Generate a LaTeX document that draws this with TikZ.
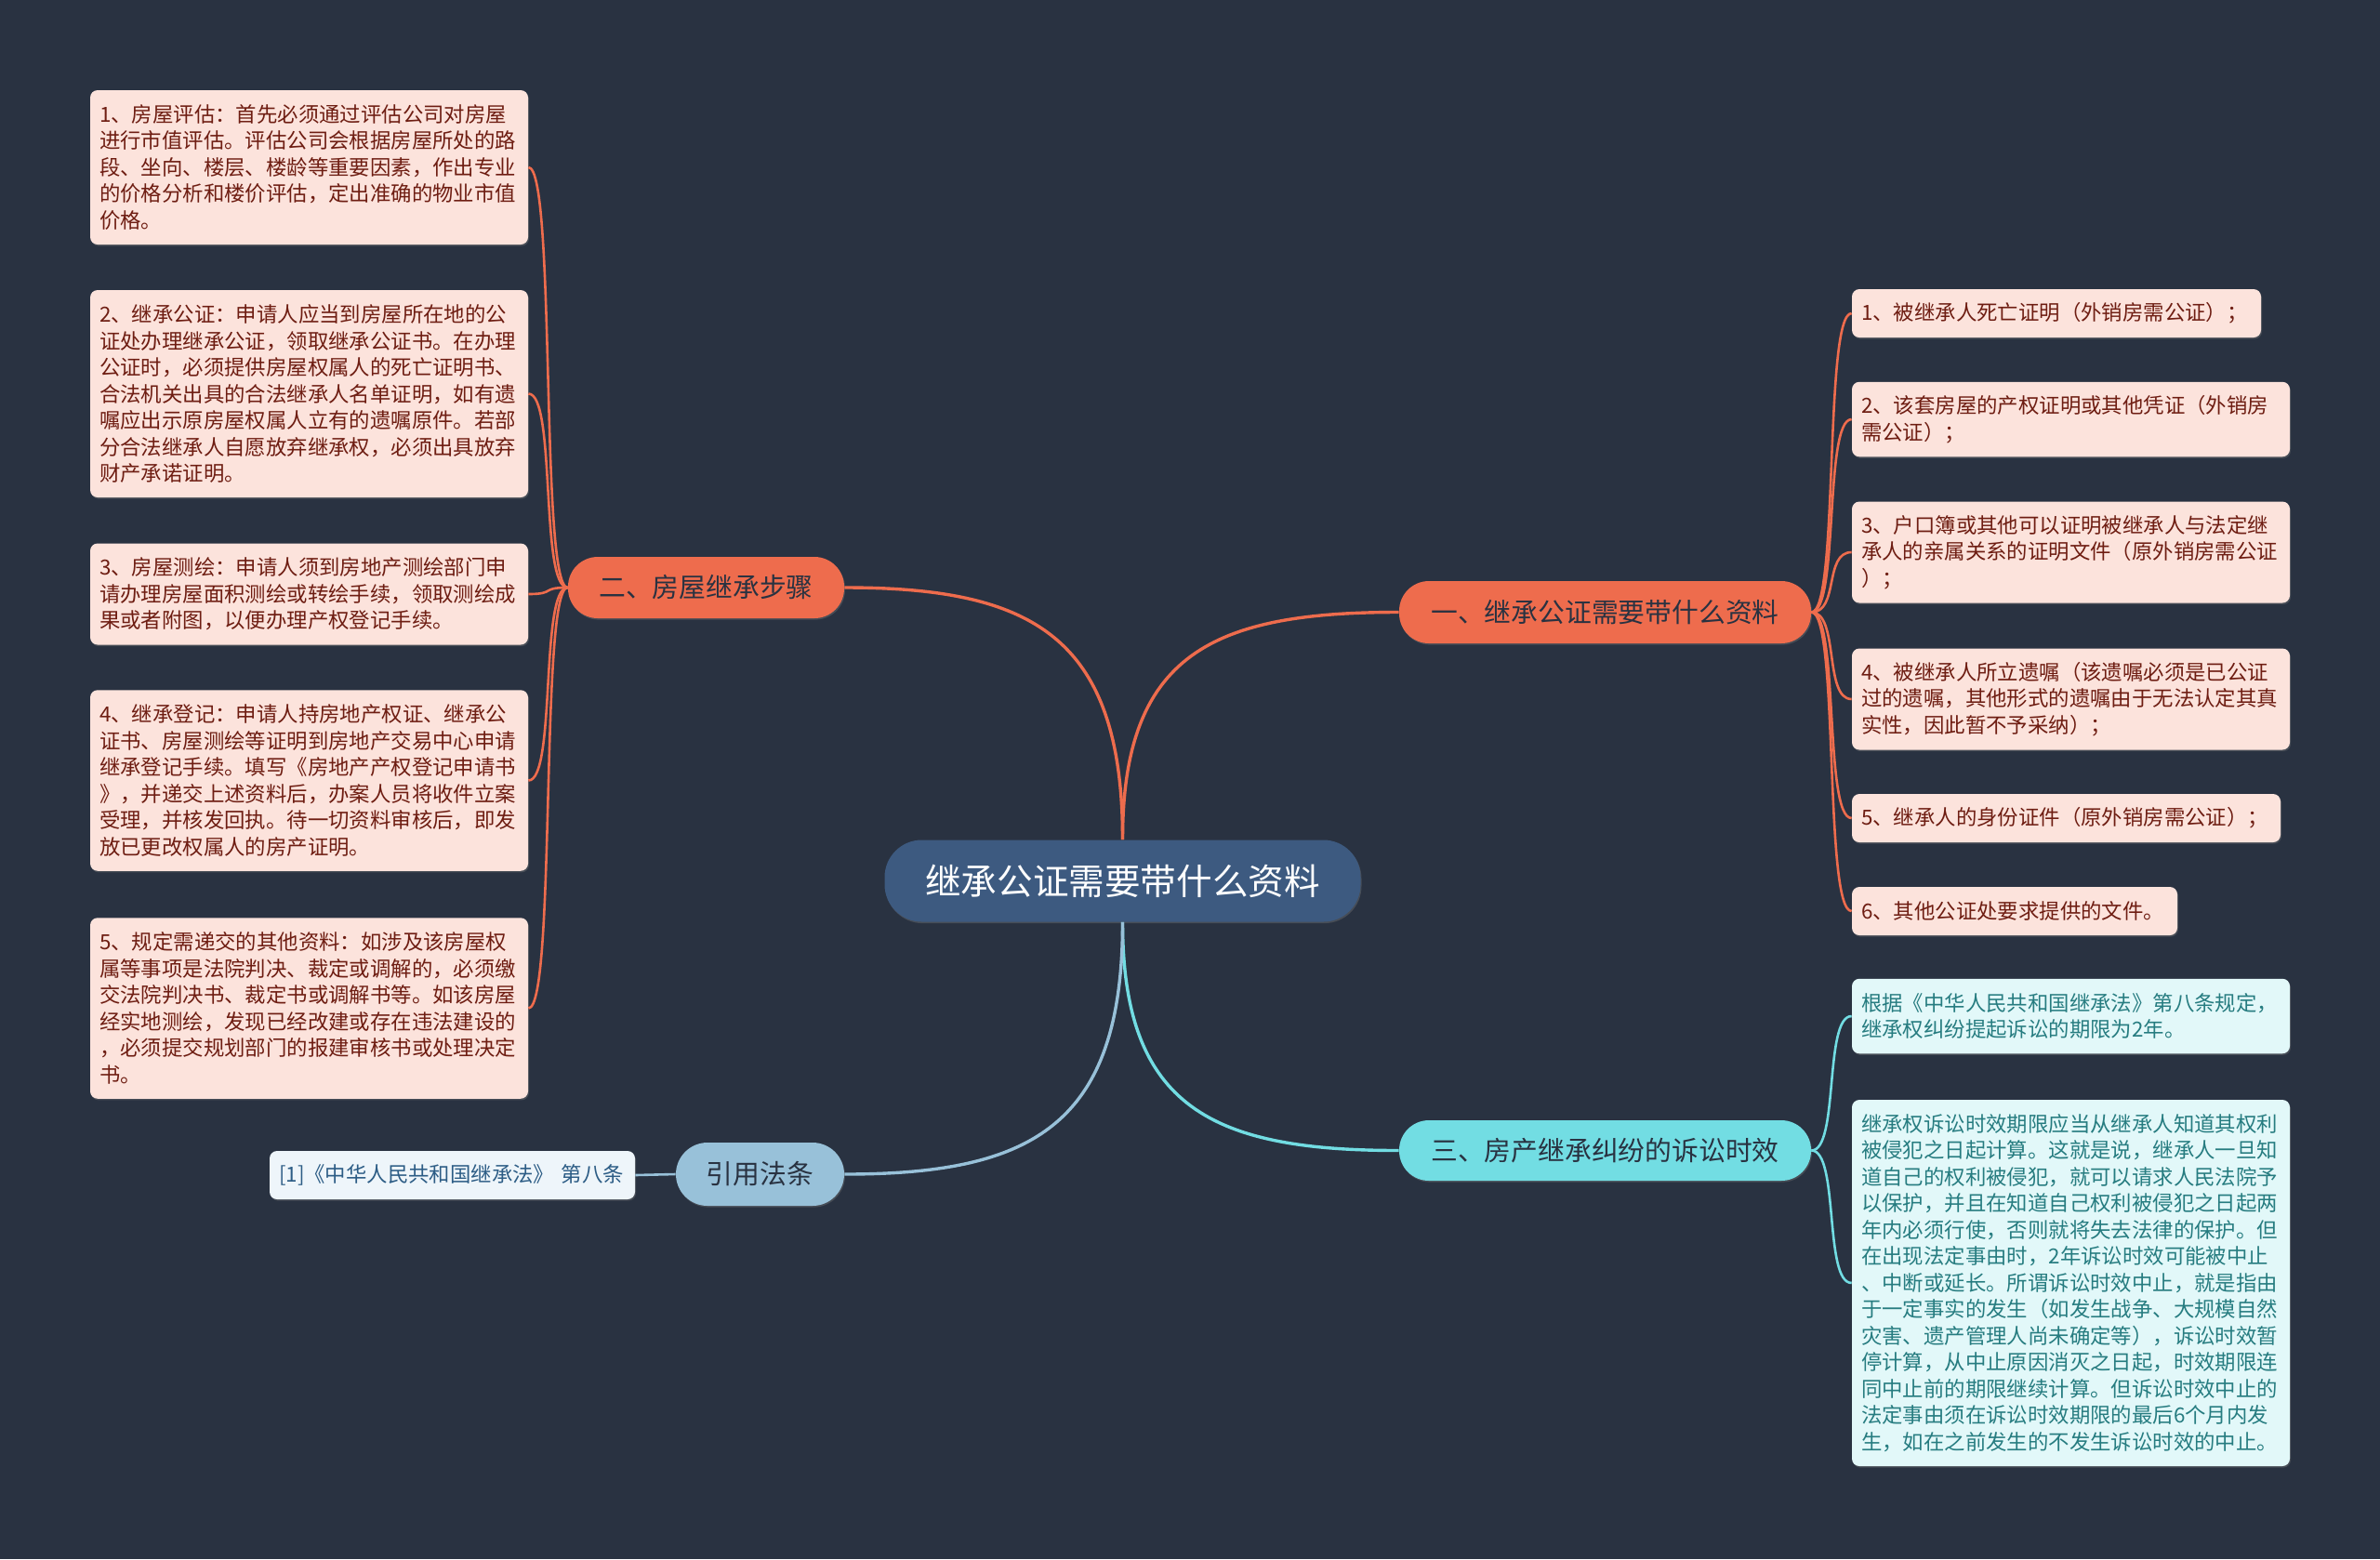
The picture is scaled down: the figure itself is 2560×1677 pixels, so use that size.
\documentclass[tikz,border=0pt]{standalone}
\usepackage{fontspec}
\setmainfont{Noto Sans CJK SC}
\usetikzlibrary{calc,shadows}
\definecolor{bg}{HTML}{293241}
\definecolor{rootc}{HTML}{3D5A80}
\definecolor{orng}{HTML}{EE6C4D}
\definecolor{cyanb}{HTML}{72DDE3}
\definecolor{lblue}{HTML}{98C1D9}
\definecolor{pinkf}{HTML}{FCE3DC}
\definecolor{pinkt}{HTML}{6E1D12}
\definecolor{cyanf}{HTML}{E2F8F9}
\definecolor{cyant}{HTML}{267C80}
\definecolor{lawf}{HTML}{EEF5FA}
\definecolor{lawt}{HTML}{2C5C85}
\definecolor{darkt}{HTML}{293241}
\begin{document}
\begin{tikzpicture}[x=0.5pt,y=-0.5pt,
  leafbase/.style={rectangle,rounded corners=4pt,inner xsep=5pt,inner ysep=3pt,align=left,
    font=\fontsize{11.2pt}{14.25pt}\selectfont,
    drop shadow={shadow xshift=0.5pt,shadow yshift=-0.8pt,opacity=0.35}},
  leafO/.style={leafbase,fill=pinkf,text=pinkt},
  leafC/.style={leafbase,fill=cyanf,text=cyant},
  leafL/.style={leafbase,fill=lawf,text=lawt},
  branch/.style={rectangle,align=center,font=\fontsize{14.4pt}{17pt}\selectfont,text=darkt,
    drop shadow={shadow xshift=0.5pt,shadow yshift=-0.8pt,opacity=0.35}},
  mainO/.style={draw=orng,line width=1.7pt},
  mainC/.style={draw=cyanb,line width=1.7pt},
  mainB/.style={draw=lblue,line width=1.7pt},
  subO/.style={draw=orng,line width=1.3pt},
  subC/.style={draw=cyanb,line width=1.3pt},
  subB/.style={draw=lblue,line width=1.3pt}]
\fill[bg] (0,0) rectangle (2560,1677);
\useasboundingbox (0,0) rectangle (2560,1677);

% root and branches
\node[rectangle,rounded corners=20pt,fill=rootc,text=white,minimum width=256pt,minimum height=44pt,
  font=\fontsize{19.3pt}{22pt}\selectfont,
  drop shadow={shadow xshift=0.5pt,shadow yshift=-0.8pt,opacity=0.35}] (root) at (1207.5,947.5) {继承公证需要带什么资料};
\node[branch,fill=orng,rounded corners=16pt,minimum width=221.5pt,minimum height=33.5pt] (b1) at (1726.5,658.5) {一、继承公证需要带什么资料};
\node[branch,fill=orng,rounded corners=16pt,minimum width=148.5pt,minimum height=33pt] (b2) at (759.5,632) {二、房屋继承步骤};
\node[branch,fill=cyanb,rounded corners=16pt,minimum width=221.5pt,minimum height=32.5pt] (b3) at (1726.5,1237.5) {三、房产继承纠纷的诉讼时效};
\node[branch,fill=lblue,rounded corners=17pt,minimum width=90.5pt,minimum height=34pt] (b4) at (817.5,1263) {引用法条};

% left leaves
\node[leafO,minimum width=235.5pt,text width=225.5pt,minimum height=83pt] (l1) at (332.5,180) {1、房屋评估：首先必须通过评估公司对房屋\\进行市值评估。评估公司会根据房屋所处的路\\段、坐向、楼层、楼龄等重要因素，作出专业\\的价格分析和楼价评估，定出准确的物业市值\\价格。};
\node[leafO,minimum width=235.5pt,text width=225.5pt,minimum height=111.5pt] (l2) at (332.5,423.5) {2、继承公证：申请人应当到房屋所在地的公\\证处办理继承公证，领取继承公证书。在办理\\公证时，必须提供房屋权属人的死亡证明书、\\合法机关出具的合法继承人名单证明，如有遗\\嘱应出示原房屋权属人立有的遗嘱原件。若部\\分合法继承人自愿放弃继承权，必须出具放弃\\财产承诺证明。};
\node[leafO,minimum width=235.5pt,text width=225.5pt,minimum height=54.5pt] (l3) at (332.5,639) {3、房屋测绘：申请人须到房地产测绘部门申\\请办理房屋面积测绘或转绘手续，领取测绘成\\果或者附图，以便办理产权登记手续。};
\node[leafO,minimum width=235.5pt,text width=225.5pt,minimum height=97.25pt] (l4) at (332.5,839.5) {4、继承登记：申请人持房地产权证、继承公\\证书、房屋测绘等证明到房地产交易中心申请\\继承登记手续。填写《房地产产权登记申请书\\》，并递交上述资料后，办案人员将收件立案\\受理，并核发回执。待一切资料审核后，即发\\放已更改权属人的房产证明。};
\node[leafO,minimum width=235.5pt,text width=225.5pt,minimum height=97.25pt] (l5) at (332.5,1084.5) {5、规定需递交的其他资料：如涉及该房屋权\\属等事项是法院判决、裁定或调解的，必须缴\\交法院判决书、裁定书或调解书等。如该房屋\\经实地测绘，发现已经改建或存在违法建设的\\，必须提交规划部门的报建审核书或处理决定\\书。};

% right leaves
\node[leafO,minimum width=220pt,text width=210pt,minimum height=26pt] (r1) at (2212,337) {1、被继承人死亡证明（外销房需公证）；};
\node[leafO,minimum width=235.5pt,text width=225.5pt,minimum height=40.25pt] (r2) at (2227.5,451) {2、该套房屋的产权证明或其他凭证（外销房\\需公证）；};
\node[leafO,minimum width=235.5pt,text width=225.5pt,minimum height=54.5pt] (r3) at (2227.5,594) {3、户口簿或其他可以证明被继承人与法定继\\承人的亲属关系的证明文件（原外销房需公证\\）；};
\node[leafO,minimum width=235.5pt,text width=225.5pt,minimum height=54.5pt] (r4) at (2227.5,752) {4、被继承人所立遗嘱（该遗嘱必须是已公证\\过的遗嘱，其他形式的遗嘱由于无法认定其真\\实性，因此暂不予采纳）；};
\node[leafO,minimum width=230.5pt,text width=220.5pt,minimum height=26pt] (r5) at (2222.5,880) {5、继承人的身份证件（原外销房需公证）；};
\node[leafO,minimum width=175pt,text width=165pt,minimum height=26pt] (r6) at (2167,980) {6、其他公证处要求提供的文件。};

\node[leafC,minimum width=235.5pt,text width=225.5pt,minimum height=40.25pt] (c1) at (2227.5,1093) {根据《中华人民共和国继承法》第八条规定，\\继承权纠纷提起诉讼的期限为2年。};
\node[leafC,minimum width=235.5pt,text width=225.5pt,minimum height=197pt] (c2) at (2227.5,1380) {继承权诉讼时效期限应当从继承人知道其权利\\被侵犯之日起计算。这就是说，继承人一旦知\\道自己的权利被侵犯，就可以请求人民法院予\\以保护，并且在知道自己权利被侵犯之日起两\\年内必须行使，否则就将失去法律的保护。但\\在出现法定事由时，2年诉讼时效可能被中止\\、中断或延长。所谓诉讼时效中止，就是指由\\于一定事实的发生（如发生战争、大规模自然\\灾害、遗产管理人尚未确定等），诉讼时效暂\\停计算，从中止原因消灭之日起，时效期限连\\同中止前的期限继续计算。但诉讼时效中止的\\法定事由须在诉讼时效期限的最后6个月内发\\生，如在之前发生的不发生诉讼时效的中止。};

\node[leafL,minimum width=196.5pt,text width=186.5pt,minimum height=26pt] (law) at (486.5,1264) {[1]《中华人民共和国继承法》 第八条};

% main connectors
\draw[mainO] (root.north) .. controls ($(root.north)+(0,-200)$) and ($(b1.west)+(-200,0)$) .. (b1.west);
\draw[mainO] (root.north) .. controls ($(root.north)+(0,-220)$) and ($(b2.east)+(200,0)$) .. (b2.east);
\draw[mainC] (root.south) .. controls ($(root.south)+(0,200)$) and ($(b3.west)+(-200,0)$) .. (b3.west);
\draw[mainB] (root.south) .. controls ($(root.south)+(0,220)$) and ($(b4.east)+(200,0)$) .. (b4.east);

% leaf connectors
\foreach \l in {l1,l2,l3,l4,l5}
  \draw[subO] (b2.west) .. controls ($(b2.west)+(-30,0)$) and ($(\l.east)+(30,0)$) .. (\l.east);
\foreach \l in {r1,r2,r3,r4,r5,r6}
  \draw[subO] (b1.east) .. controls ($(b1.east)+(30,0)$) and ($(\l.west)+(-30,0)$) .. (\l.west);
\foreach \l in {c1,c2}
  \draw[subC] (b3.east) .. controls ($(b3.east)+(30,0)$) and ($(\l.west)+(-30,0)$) .. (\l.west);
\draw[subB] (b4.west) -- (law.east);
\end{tikzpicture}
\end{document}
